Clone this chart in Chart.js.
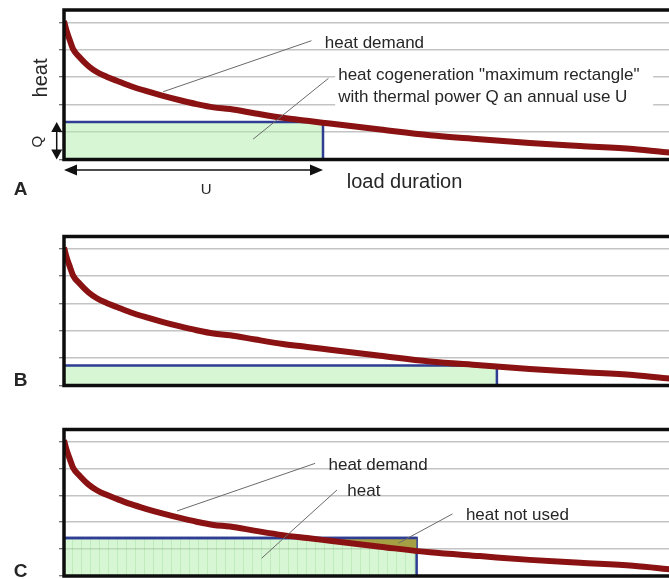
<!DOCTYPE html>
<html>
<head>
<meta charset="utf-8">
<script src="https://cdn.jsdelivr.net/npm/chart.js@4.4.1/dist/chart.umd.min.js"></script>
<style>
  html, body { margin: 0; padding: 0; background: #fff; width: 669px; height: 579px; overflow: hidden; }
  canvas { position: absolute; left: 0; }
</style>
</head>
<body>
<canvas id="panelA" width="680" height="200" style="top:0px"></canvas>
<canvas id="panelB" width="680" height="200" style="top:220px"></canvas>
<canvas id="panelC" width="680" height="164" style="top:415px"></canvas>
<script>
// ---------------- data: annual load duration curve ----------------
// x = load duration in % of the year, y = heat demand (relative units)
let durationPct = [0, 0.44, 1.0, 1.5, 2.6, 4.0, 5.4, 7.0, 8.7, 10.9, 13.6, 16.3, 19.1, 21.8, 24.6, 27.3, 31.5, 36, 40, 43.75, 52, 60.2, 68.4, 76.6, 84.9, 93.6, 100];
let heatDemand = [5.05, 4.68, 4.32, 4.02, 3.72, 3.41, 3.19, 3.02, 2.87, 2.68, 2.49, 2.32, 2.16, 2.02, 1.90, 1.84, 1.68, 1.52, 1.41, 1.31, 1.09, 0.88, 0.74, 0.60, 0.49, 0.38, 0.24];

// cogeneration rectangle of each panel: thermal power Q and annual use U (%)
let panelNames = ["A", "B", "C"];
let thermalPowerQ = [1.37, 0.73, 1.41];
let annualUseU = [42.6, 71.2, 58.0];

let heatMax = 5.45;
let gridStep = 1;

// ---------------- colours ----------------
let curveColor = "#8a1212";
let rectBorder = "#2f3d92";
let rectFill = "rgba(175, 240, 170, 0.5)";
let unusedFill = "rgb(166, 160, 68)";
let textColor = "#262626";
let font = "'Liberation Sans', Arial, sans-serif";

function hatchFill() {
  let c = document.createElement("canvas");
  c.width = 9;
  c.height = 9;
  let g = c.getContext("2d");
  g.fillStyle = rectFill;
  g.fillRect(0, 0, 9, 9);
  g.fillStyle = "rgba(120, 200, 120, 0.25)";
  g.fillRect(0, 0, 1, 9);
  return g.createPattern(c, "repeat");
}

// ---------------- annotations (in data units) ----------------
let notesA = {
  boxes: [{ x0: 44.6, x1: 96.9, y0: 1.73, y1: 3.63 }],
  leaders: [
    [40.7, 4.33, 16.3, 2.47],
    [43.5, 2.96, 31.1, 0.74],
  ],
  texts: [
    { t: "heat demand", x: 42.9, y: 4.25 },
    { t: 'heat cogeneration "maximum rectangle"', x: 45.1, y: 3.08 },
    { t: "with thermal power Q an annual use U", x: 45.1, y: 2.28 },
    { t: "heat", x: -3.67, y: 2.97, size: 20, rot: true, align: "center" },
    { t: "Q", x: -4.36, y: 0.65, size: 15, rot: true, align: "center" },
    { t: "U", x: 23.4, y: -1.11, size: 15, align: "center" },
    { t: "load duration", x: 46.5, y: -0.82, size: 20 },
    { t: "A", x: -7.15, y: -1.11, size: 19, bold: true, align: "center" },
  ],
  vArrow: { x: -1.2, y0: 0, y1: 1.37 },
  hArrow: { y: -0.38, x0: 0, x1: 42.6 },
};

let notesB = {
  texts: [{ t: "B", x: -7.15, y: 0.18, size: 19, bold: true, align: "center" }],
};

let notesC = {
  leaders: [
    [41.3, 4.19, 18.6, 2.42],
    [44.9, 3.2, 32.5, 0.66],
    [63.9, 2.31, 55.0, 1.22],
  ],
  texts: [
    { t: "heat demand", x: 43.5, y: 4.13 },
    { t: "heat", x: 46.6, y: 3.14 },
    { t: "heat not used", x: 66.1, y: 2.27 },
    { t: "C", x: -7.15, y: 0.15, size: 19, bold: true, align: "center" },
  ],
};

// frame + annotation drawing
let makeSketch = (notes) => ({
  id: "sketch",
  afterDatasetsDraw(chart) {
    let ctx = chart.ctx;
    let a = chart.chartArea;
    let sx = chart.scales.x;
    let sy = chart.scales.y;
    let px = (x) => sx.getPixelForValue(x);
    let py = (y) => sy.getPixelForValue(y);
    ctx.save();

    // thick frame (right side runs off the picture)
    ctx.strokeStyle = "#0d0d0d";
    ctx.lineWidth = 3.5;
    ctx.lineJoin = "miter";
    ctx.beginPath();
    ctx.moveTo(a.right + 20, a.top);
    ctx.lineTo(a.left, a.top);
    ctx.lineTo(a.left, a.bottom);
    ctx.lineTo(a.right + 20, a.bottom);
    ctx.stroke();

    (notes.boxes || []).forEach((b) => {
      ctx.fillStyle = "#fff";
      ctx.fillRect(px(b.x0), py(b.y1), px(b.x1) - px(b.x0), py(b.y0) - py(b.y1));
    });

    ctx.strokeStyle = "#6a6a6a";
    ctx.lineWidth = 1;
    (notes.leaders || []).forEach((l) => {
      ctx.beginPath();
      ctx.moveTo(px(l[0]), py(l[1]));
      ctx.lineTo(px(l[2]), py(l[3]));
      ctx.stroke();
    });

    ctx.strokeStyle = "#111";
    ctx.fillStyle = "#111";
    ctx.lineWidth = 1.5;
    if (notes.vArrow) {
      let v = notes.vArrow;
      let x = px(v.x), yb = py(v.y0), yt = py(v.y1);
      ctx.beginPath();
      ctx.moveTo(x, yt + 8);
      ctx.lineTo(x, yb - 8);
      ctx.stroke();
      ctx.beginPath();
      ctx.moveTo(x, yt); ctx.lineTo(x - 5.5, yt + 10); ctx.lineTo(x + 5.5, yt + 10); ctx.closePath();
      ctx.moveTo(x, yb); ctx.lineTo(x - 5.5, yb - 10); ctx.lineTo(x + 5.5, yb - 10); ctx.closePath();
      ctx.fill();
    }
    if (notes.hArrow) {
      let h = notes.hArrow;
      let y = py(h.y), xl = px(h.x0), xr = px(h.x1);
      ctx.beginPath();
      ctx.moveTo(xl + 8, y);
      ctx.lineTo(xr - 8, y);
      ctx.stroke();
      ctx.beginPath();
      ctx.moveTo(xl, y); ctx.lineTo(xl + 13, y - 5.5); ctx.lineTo(xl + 13, y + 5.5); ctx.closePath();
      ctx.moveTo(xr, y); ctx.lineTo(xr - 13, y - 5.5); ctx.lineTo(xr - 13, y + 5.5); ctx.closePath();
      ctx.fill();
    }

    ctx.fillStyle = textColor;
    ctx.textBaseline = "middle";
    (notes.texts || []).forEach((n) => {
      ctx.font = (n.bold ? "bold " : "") + (n.size || 17) + "px " + font;
      ctx.textAlign = n.align || "left";
      ctx.save();
      ctx.translate(px(n.x), py(n.y));
      if (n.rot) ctx.rotate(-Math.PI / 2);
      ctx.fillText(n.t, 0, 0);
      ctx.restore();
    });
    ctx.restore();
  },
});

let buildPanel = (id, i, notes, padTop, padBottom) => {
  let q = thermalPowerQ[i];
  let u = annualUseU[i];
  let curve = durationPct.map((d, k) => ({ x: d, y: heatDemand[k] }));
  let datasets = [
    {
      label: "heat demand",
      data: curve,
      borderColor: curveColor,
      borderWidth: 6,
      pointRadius: 0,
      fill: false,
      cubicInterpolationMode: "monotone",
      order: 0,
    },
    {
      label: "heat cogeneration",
      data: [{ x: 0, y: q }, { x: u, y: q }, { x: u, y: 0 }],
      borderColor: rectBorder,
      borderWidth: 2.5,
      backgroundColor: i === 2 ? hatchFill() : rectFill,
      pointRadius: 0,
      fill: "origin",
      tension: 0,
      order: 2,
    },
  ];
  if (i === 2) {
    datasets.push({
      label: "heat not used",
      data: [{ x: 0, y: q }, { x: u, y: q }],
      borderColor: rectBorder,
      borderWidth: 2.5,
      pointRadius: 0,
      tension: 0,
      fill: { target: 0, above: unusedFill, below: "rgba(0,0,0,0)" },
      order: 1,
    });
  }

  new Chart(document.getElementById(id), {
    type: "line",
    data: { datasets: datasets },
    options: {
      responsive: false,
      animation: false,
      events: [],
      layout: { padding: { left: 0, top: padTop, right: 8, bottom: padBottom } },
      plugins: { legend: { display: false }, tooltip: { enabled: false } },
      scales: {
        x: { type: "linear", min: 0, max: 100, display: false },
        y: {
          type: "linear",
          min: 0,
          max: heatMax,
          afterFit: (s) => { s.width = 64; },
          border: { display: false },
          grid: { color: "#c4c4c4", lineWidth: 1.5, tickLength: 5, tickColor: "#444", tickWidth: 1 },
          ticks: { display: false, stepSize: gridStep, includeBounds: false },
        },
      },
    },
    plugins: [makeSketch(notes)],
  });
};

buildPanel("panelA", 0, notesA, 10, 40.5);
buildPanel("panelB", 1, notesB, 16.5, 34.5);
buildPanel("panelC", 2, notesC, 14.5, 3);
</script>
</body>
</html>
